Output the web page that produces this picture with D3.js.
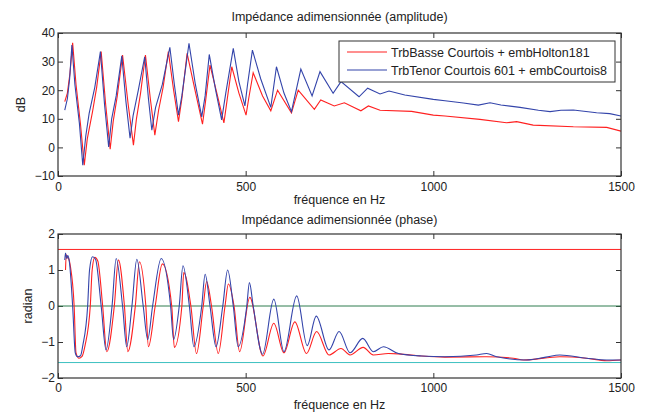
<!DOCTYPE html>
<html lang="fr">
  <head>
    <meta charset="utf-8" />
    <title>Impédance adimensionnée</title>
    <script src="https://cdnjs.cloudflare.com/ajax/libs/d3/7.8.5/d3.min.js"></script>
    <style type="text/css">
      body { margin: 0; background: #fff; }
      text { font-family: "Liberation Sans", Arial, Helvetica, sans-serif; font-size: 12.5px; fill: #222; }
      .frame { fill: none; stroke: #333; stroke-width: 1.2; }
      .axis path { display: none; }
      .axis line { stroke: #333; }
    </style>
  </head>

  <body>
    <script>
      const width = 648;
      const height = 412;

      // data: [frequency Hz, value]
      const seriesNames = ["TrbBasse Courtois + embHolton181", "TrbTenor Courtois 601 + embCourtois8"];

      const ampRed = [[18,16],[25,19],[32,26],[39,36.6],[48,22],[60,8],[70,-6.2],[78,3],[92,12.5],[103,21],[115,33.5],
        [127,15],[139,-0.6],[147,9],[158,18],[172,32.3],[187,15],[201,0.8],[209,10],[220,19],[233,32.3],[246,17],
        [258,4.3],[268,13],[280,21],[294,33.5],[308,20],[321,9],[330,17],[344,32.9],[365,20],[385,8.1],[393,16],
        [405,28.8],[425,18],[442,8.6],[450,16],[463,28.2],[482,19],[501,11.3],[508,17],[520,26.1],[545,18],[567,12.8],
        [585,20],[622,12.1],[640,20],[683,13.3],[700,16.6],[736,14.5],[763,15.6],[807,12.8],[827,14.5],[858,13],
        [942,12.6],[1000,11.3],[1031,11],[1124,9.8],[1195,8.6],[1222,9],[1266,7.8],[1373,7.2],[1462,7],[1500,5.7]];

      const ampBlue = [[18,13],[25,17],[31,24],[37,35.8],[45,22],[57,8.4],[66,-6.2],[74,4],[83,11.9],[98,21],[113,33.5],
        [124,15],[135,0.2],[143,10],[155,18],[170,32],[181,16],[192,3.2],[200,11],[214,20],[231,31.7],[241,17],[250,6],
        [260,14],[278,22],[298,35],[310,22],[321,11.3],[330,18],[349,36.4],[366,22],[383,10.7],[392,18],[403,32.5],
        [420,20],[436,9.6],[447,19],[467,34.6],[482,23],[498,14.5],[505,22],[518,34],[540,24],[567,14],[582,28.2],
        [602,19],[622,12.5],[647,27.4],[677,18],[698,26.5],[733,18.9],[754,23],[802,17.7],[825,20.7],[858,18.7],
        [882,19.7],[924,18.3],[1000,16.8],[1031,16.3],[1080,15.5],[1120,14.8],[1151,15.6],[1180,14.8],[1231,14],
        [1280,13],[1311,12.5],[1340,13],[1373,13.1],[1435,12.1],[1470,11.8],[1500,11]];

      const phaseRed = [[20,1.0],[22,1.42],[25,1.35],[29,1.3],[33,1.1],[43,0],[48,-1.3],[56,-1.45],[64,-1.4],[72,-1.1],
        [86,0],[91,1.0],[98,1.35],[106,1.25],[119,0],[130,-1.27],[150,0],[161,1.28],[177,0],[186,-1.27],[206,0],
        [217,1.23],[234,0],[241,-1.13],[259,0],[278,1.17],[303,0],[310,-1.15],[330,0],[335,0.93],[354,0],[369,-1.32],
        [387,0],[396,0.68],[409,0],[427,-1.32],[445,0],[454,0.61],[469,0],[484,-1.27],[511,0.24],[546,-1.39],
        [575,-0.48],[602,-1.3],[631,-0.44],[662,-1.32],[689,-0.71],[722,-1.36],[754,-1.18],[778,-1.36],[813,-1.15],
        [840,-1.36],[880,-1.32],[907,-1.33],[969,-1.39],[1031,-1.42],[1142,-1.41],[1213,-1.45],[1240,-1.5],
        [1337,-1.41],[1408,-1.45],[1462,-1.52],[1500,-1.5]];

      const phaseBlue = [[18,1.28],[20,1.47],[23,1.32],[26,1.4],[30,1.25],[39,0],[46,-1.3],[52,-1.41],[60,-1.38],
        [66,-1.1],[79,0],[84,1.0],[92,1.37],[100,1.3],[115,0],[128,-1.22],[144,0],[155,1.32],[172,0],[183,-1.13],
        [197,0],[210,1.3],[227,0],[239,-0.93],[252,0],[275,1.32],[300,0],[308,-0.93],[323,0],[333,1.12],[350,0],
        [362,-1.13],[383,0],[392,0.88],[405,0],[421,-1.13],[439,0],[452,1.0],[467,0],[480,-1.13],[503,0],[510,0.65],
        [520,0],[545,-1.34],[575,0.19],[602,-1.27],[636,0.28],[664,-1.1],[688,-0.28],[722,-1.22],[749,-0.71],
        [778,-1.3],[812,-0.9],[840,-1.27],[867,-1.13],[907,-1.32],[969,-1.39],[1031,-1.41],[1115,-1.36],
        [1142,-1.32],[1169,-1.41],[1249,-1.5],[1300,-1.42],[1337,-1.36],[1408,-1.45],[1462,-1.5],[1500,-1.5]];

      const refLevels = [Math.PI / 2, 0, -Math.PI / 2];
      const refColors = ["#ff2020", "#2e7d4f", "#3cc0c0"];

      const xTicks = [0, 500, 1000, 1500];
      const ampTicks = [-10, 0, 10, 20, 30, 40];
      const phaseTicks = [-2, -1, 0, 1, 2];

      const red = "#ff2020";
      const blue = "#3344aa";

      const left = 58, right = 621;

      const svg = d3.select("body").append("svg")
        .attr("width", width)
        .attr("height", height)
        .attr("viewBox", [0, 0, width, height]);

      function panel(top, bottom, yDomain, yTicks, title, ylabel, ylabelX, series, titleY, xlabelY, xPad) {
        const x = d3.scaleLinear([0, 1500], [left, right]);
        const y = d3.scaleLinear(yDomain, [bottom, top]);

        const g = svg.append("g");
        const clipId = "clip" + top;
        g.append("clipPath").attr("id", clipId)
          .append("rect").attr("x", left).attr("y", top).attr("width", right - left).attr("height", bottom - top);

        // ticks inside on all four sides, MATLAB style
        g.append("g").attr("class", "axis").attr("transform", `translate(0,${bottom})`)
          .call(d3.axisBottom(x).tickValues(xTicks).tickSizeInner(-5).tickSizeOuter(0).tickPadding(xPad).tickFormat(d3.format("d")));
        g.append("g").attr("class", "axis").attr("transform", `translate(0,${top})`)
          .call(d3.axisTop(x).tickValues(xTicks).tickSizeInner(-5).tickSizeOuter(0).tickFormat(""));
        g.append("g").attr("class", "axis").attr("transform", `translate(${left},0)`)
          .call(d3.axisLeft(y).tickValues(yTicks).tickSizeInner(-5).tickSizeOuter(0).tickPadding(3).tickFormat(d3.format("d")));
        g.append("g").attr("class", "axis").attr("transform", `translate(${right},0)`)
          .call(d3.axisRight(y).tickValues(yTicks).tickSizeInner(-5).tickSizeOuter(0).tickFormat(""));
        g.selectAll(".axis text").style("font-size", "12px").attr("fill", "#222");

        const plot = g.append("g").attr("clip-path", `url(#${clipId})`);

        if (series.refs) {
          series.refs.forEach((v, i) => {
            plot.append("line")
              .attr("x1", left).attr("x2", right)
              .attr("y1", y(v)).attr("y2", y(v))
              .attr("stroke", refColors[i]).attr("stroke-width", 1);
          });
        }

        const line = d3.line()
          .x(d => x(d[0]))
          .y(d => y(d[1]))
          .curve(series.curve);

        plot.append("path").attr("d", line(series.red))
          .attr("fill", "none").attr("stroke", red).attr("stroke-width", 1.1);
        plot.append("path").attr("d", line(series.blue))
          .attr("fill", "none").attr("stroke", blue).attr("stroke-width", 1.1);

        g.append("rect").attr("class", "frame")
          .attr("x", left).attr("y", top).attr("width", right - left).attr("height", bottom - top);

        g.append("text").attr("x", (left + right) / 2).attr("y", titleY)
          .attr("text-anchor", "middle").text(title);
        g.append("text").attr("x", (left + right) / 2).attr("y", xlabelY)
          .attr("text-anchor", "middle").text("fréquence en Hz");
        g.append("text")
          .attr("transform", `translate(${ylabelX},${(top + bottom) / 2}) rotate(-90)`)
          .attr("text-anchor", "middle").text(ylabel);

        return { x, y };
      }

      panel(33, 176, [-10, 40], ampTicks, "Impédance adimensionnée (amplitude)", "dB", 25,
        { red: ampRed, blue: ampBlue, curve: d3.curveLinear }, 21, 204, 6);

      panel(234, 378, [-2, 2], phaseTicks, "Impédance adimensionnée (phase)", "radian", 32,
        { red: phaseRed, blue: phaseBlue, curve: d3.curveMonotoneX, refs: refLevels }, 224, 409, 5);

      // legend
      const legend = svg.append("g");
      legend.append("rect")
        .attr("x", 339).attr("y", 41).attr("width", 276).attr("height", 41)
        .attr("fill", "#fff").attr("stroke", "#333").attr("stroke-width", 1);
      [red, blue].forEach((c, i) => {
        const ly = 52 + i * 18;
        legend.append("line").attr("x1", 347).attr("x2", 387).attr("y1", ly).attr("y2", ly)
          .attr("stroke", c).attr("stroke-width", 1.1);
        legend.append("text").attr("x", 391).attr("y", ly + 4.5).text(seriesNames[i]);
      });
    </script>
  </body>
</html>
